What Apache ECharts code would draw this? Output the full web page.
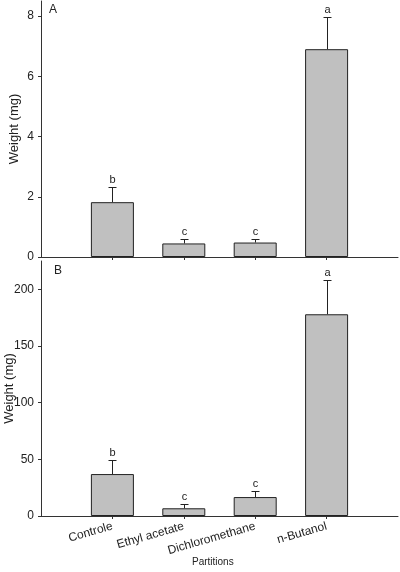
<!DOCTYPE html>
<html>
<head>
<meta charset="utf-8">
<script src="https://cdn.jsdelivr.net/npm/echarts@6/dist/echarts.min.js"></script>
<style>
  html, body { margin: 0; padding: 0; background: #fff; }
  #chart { width: 400px; height: 572px; }
</style>
</head>
<body>
<div id="chart"></div>
<script>
// data
const partitions = ['Controle', 'Ethyl acetate', 'Dichloromethane', 'n-Butanol']
const positions = [1, 2, 3, 4]

const weightA = [1.82, 0.45, 0.48, 6.9]
const errA = [0.49, 0.14, 0.12, 1.06]
const lettersA = ['b', 'c', 'c', 'a']
const ticksA = [0, 2, 4, 6, 8]

const weightB = [37, 6.8, 16.7, 178]
const errB = [12.3, 4, 5.3, 30]
const lettersB = ['b', 'c', 'c', 'a']
const ticksB = [0, 50, 100, 150, 200]

const font = 'Liberation Sans, Arial, sans-serif'
const ink = '#222'

const chart = echarts.init(document.getElementById('chart'))

function barSeries(idx, values) {
  return {
    type: 'bar',
    xAxisIndex: idx,
    yAxisIndex: idx,
    barWidth: 43,
    data: values.map((v, i) => [positions[i], v]),
    itemStyle: { color: '#c0c0c0', borderColor: ink, borderWidth: 1 },
    silent: true
  }
}

function errSeries(idx, values, errs, letters) {
  return {
    type: 'custom',
    xAxisIndex: idx,
    yAxisIndex: idx,
    data: values.map((v, i) => [positions[i], v, v + errs[i], i]),
    renderItem(params, api) {
      const base = api.coord([api.value(0), api.value(1)])
      const top = api.coord([api.value(0), api.value(2)])
      const x = Math.round(base[0]) + 0.5
      const y = Math.round(top[1]) + 0.5
      const style = { stroke: ink, lineWidth: 1 }
      return {
        type: 'group',
        children: [
          { type: 'line', shape: { x1: x, y1: base[1], x2: x, y2: y }, style },
          { type: 'line', shape: { x1: x - 4, y1: y, x2: x + 4, y2: y }, style },
          {
            type: 'text',
            style: {
              text: letters[api.value(3)],
              x: x,
              y: y - 2,
              align: 'center',
              verticalAlign: 'bottom',
              fill: ink,
              font: '11px ' + font
            }
          }
        ]
      }
    },
    silent: true,
    z: 3
  }
}

function yAxis(idx, max, ticks, gap) {
  return {
    type: 'value',
    gridIndex: idx,
    min: 0,
    max: max,
    name: 'Weight (mg)',
    nameLocation: 'middle',
    nameGap: gap,
    nameMoveOverlap: false,
    nameTextStyle: { color: ink, fontSize: 13, fontFamily: font },
    axisLine: { show: true, lineStyle: { color: '#333', width: 1 } },
    axisTick: { show: true, length: 3, customValues: ticks, lineStyle: { color: '#333' } },
    axisLabel: { customValues: ticks, color: ink, fontSize: 12, fontFamily: font, margin: 7 },
    splitLine: { show: false }
  }
}

function xAxis(idx, showLabels) {
  return {
    type: 'value',
    gridIndex: idx,
    min: 0,
    max: 5,
    axisLine: { show: true, onZero: false, lineStyle: { color: '#333', width: 1 } },
    axisTick: { show: true, length: 3, customValues: positions, lineStyle: { color: '#333' } },
    axisLabel: {
      show: showLabels,
      customValues: positions,
      formatter: v => partitions[v - 1] || '',
      rotate: 16,
      color: ink,
      fontSize: 12,
      fontFamily: font,
      margin: 10
    },
    splitLine: { show: false }
  }
}

chart.setOption({
  animation: false,
  grid: [
    { left: 41, right: 2, top: 1, height: 256, outerBoundsMode: 'none', containLabel: false },
    { left: 41, right: 2, top: 261, height: 255, outerBoundsMode: 'none', containLabel: false }
  ],
  xAxis: [xAxis(0, false), xAxis(1, true)],
  yAxis: [yAxis(0, 8.5, ticksA, 20), yAxis(1, 225, ticksB, 25)],
  graphic: [
    { type: 'text', left: 49, top: 4, style: { text: 'A', fill: ink, font: '12px ' + font } },
    { type: 'text', left: 54, top: 265, style: { text: 'B', fill: ink, font: '12px ' + font } },
    { type: 'text', left: 192, top: 557, style: { text: 'Partitions', fill: ink, font: '10px ' + font } }
  ],
  series: [
    barSeries(0, weightA),
    errSeries(0, weightA, errA, lettersA),
    barSeries(1, weightB),
    errSeries(1, weightB, errB, lettersB)
  ]
})
</script>
</body>
</html>
